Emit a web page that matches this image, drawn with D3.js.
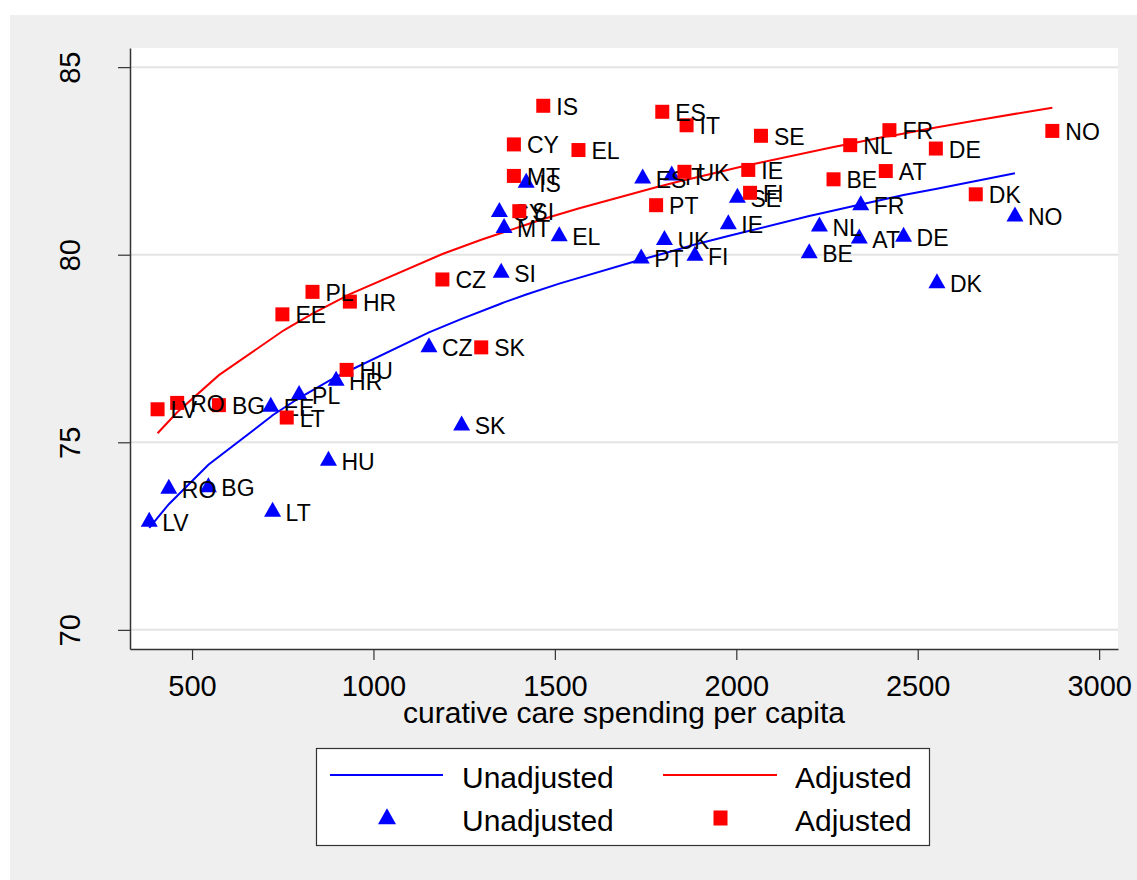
<!DOCTYPE html>
<html>
<head>
<meta charset="utf-8">
<script src="https://cdn.jsdelivr.net/npm/d3@7"></script>
<style>
  body { margin: 0; background: #ffffff; }
  svg { display: block; font-family: "Liberation Sans", Arial, Helvetica, sans-serif; }
</style>
</head>
<body>
<svg id="chart" width="1137" height="880"></svg>
<script>
// ---- data ----
const countries = ["LV","RO","BG","LT","EE","PL","HR","HU","CZ","SK","SI","MT","CY","IS","EL",
                   "ES","IT","PT","UK","FI","IE","SE","BE","NL","FR","AT","DE","DK","NO"];
// Unadjusted: spending per capita, life expectancy, fitted value
const unadjSpend = [382,436,545,722,717,795,897,876,1153,1243,1352,1360,1347,1421,1512,
                    1742,1822,1738,1802,1886,1978,2003,2201,2229,2343,2339,2461,2553,2768];
const unadjLife  = [72.88,73.76,73.80,73.15,75.95,76.26,76.64,74.51,77.53,75.45,79.52,80.71,81.14,81.92,80.49,
                    82.03,82.11,79.90,80.39,79.97,80.81,81.52,80.04,80.75,81.32,80.43,80.48,79.24,81.02];
const unadjFit   = [72.72,73.35,74.40,75.72,75.68,76.18,76.74,76.63,77.93,78.29,78.70,78.73,78.68,78.94,79.23,
                    79.88,80.09,79.87,80.04,80.27,80.50,80.56,81.03,81.09,81.34,81.33,81.59,81.76,82.17];
// Adjusted
const adjSpend = [405,459,574,761,749,832,935,926,1190,1297,1402,1387,1387,1468,1565,
                  1796,1863,1779,1857,2038,2033,2068,2268,2314,2422,2412,2550,2660,2871];
const adjLife  = [75.88,76.05,75.99,75.66,78.41,79.01,78.75,76.93,79.34,77.53,81.16,82.10,82.94,83.97,82.79,
                  83.81,83.45,81.32,82.21,81.65,82.26,83.17,82.01,82.92,83.32,82.23,82.83,81.61,83.30];
const adjFit   = [75.24,75.80,76.79,78.03,77.96,78.43,78.95,78.90,80.02,80.40,80.74,80.69,80.69,80.95,81.23,
                  81.84,82.00,81.80,81.99,82.40,82.39,82.46,82.87,82.96,83.16,83.15,83.39,83.58,83.92];

const xTicks = [500,1000,1500,2000,2500,3000];
const yTicks = [70,75,80,85];
const xTitle = "curative care spending per capita";
const seriesNames = ["Unadjusted","Adjusted"];

// ---- drawing ----
const svg = d3.select("#chart");
const BLUE = "#0000ff", RED = "#ff0000";

svg.append("rect").attr("x",10).attr("y",15).attr("width",1127).attr("height",865).attr("fill","#efefef");

const plot = {left:130, right:1118, top:48, bottom:649};
svg.append("rect").attr("x",plot.left).attr("y",plot.top)
   .attr("width",plot.right-plot.left).attr("height",plot.bottom-plot.top).attr("fill","#ffffff");

const x = d3.scaleLinear().domain([329,3052]).range([plot.left, plot.right]);
const y = d3.scaleLinear().domain([69.49,85.51]).range([plot.bottom, plot.top]);

// grid
svg.append("g").selectAll("line").data(yTicks).join("line")
  .attr("x1",plot.left).attr("x2",plot.right)
  .attr("y1",d=>y(d)).attr("y2",d=>y(d))
  .attr("stroke","#e4e4e4").attr("stroke-width",2);

// axes
const yAxis = svg.append("g").attr("transform",`translate(${plot.left},0)`)
  .call(d3.axisLeft(y).tickValues(yTicks).tickSize(12).tickSizeOuter(0).tickPadding(0));
yAxis.selectAll("text").attr("transform","rotate(-90)").attr("x",0).attr("y",-50).attr("dy",0)
  .attr("text-anchor","middle").style("font-size","29px").attr("fill","#000");

const xAxis = svg.append("g").attr("transform",`translate(0,${plot.bottom})`)
  .call(d3.axisBottom(x).tickValues(xTicks).tickSize(11).tickSizeOuter(0).tickFormat(d3.format("d")));
xAxis.selectAll("text").attr("y",47).attr("dy",0).style("font-size","29px").attr("fill","#000");

[yAxis, xAxis].forEach(a => {
  a.select(".domain").attr("stroke","#333").attr("stroke-width",1.5);
  a.selectAll(".tick line").attr("stroke","#333").attr("stroke-width",1.2);
  a.attr("font-family",null).attr("font-size",null);
});

svg.append("text").attr("x",(plot.left+plot.right)/2).attr("y",723)
  .attr("text-anchor","middle").style("font-size","30px").attr("fill","#000").text(xTitle);

// fitted lines
function lineData(sp, fit) {
  return sp.map((s,i)=>({x:s, y:fit[i]})).sort((a,b)=>a.x-b.x);
}
const lineGen = d3.line().x(d=>x(d.x)).y(d=>y(d.y));
svg.append("path").datum(lineData(unadjSpend, unadjFit)).attr("d",lineGen)
  .attr("fill","none").attr("stroke",BLUE).attr("stroke-width",2);
svg.append("path").datum(lineData(adjSpend, adjFit)).attr("d",lineGen)
  .attr("fill","none").attr("stroke",RED).attr("stroke-width",2);

// markers
function triPath(cx, cy, w, h) {
  return `M${cx},${cy - h*2/3}L${cx + w/2},${cy + h/3}L${cx - w/2},${cy + h/3}Z`;
}
const unadjPts = countries.map((c,i)=>({c, x:unadjSpend[i], y:unadjLife[i]}));
const adjPts = countries.map((c,i)=>({c, x:adjSpend[i], y:adjLife[i]}));

const gU = svg.append("g");
gU.selectAll("path").data(unadjPts).join("path")
  .attr("d", d=>triPath(x(d.x), y(d.y), 17, 15)).attr("fill",BLUE);
gU.selectAll("text").data(unadjPts).join("text")
  .attr("x", d=>x(d.x)+13).attr("y", d=>y(d.y)+9)
  .style("font-size","23px").attr("fill","#000").text(d=>d.c);

const gA = svg.append("g");
gA.selectAll("rect").data(adjPts).join("rect")
  .attr("x", d=>x(d.x)-7).attr("y", d=>y(d.y)-7).attr("width",14).attr("height",14).attr("fill",RED);
gA.selectAll("text").data(adjPts).join("text")
  .attr("x", d=>x(d.x)+13).attr("y", d=>y(d.y)+9)
  .style("font-size","23px").attr("fill","#000").text(d=>d.c);

// legend
const lg = svg.append("g");
lg.append("rect").attr("x",316.5).attr("y",748.5).attr("width",613).attr("height",97)
  .attr("fill","#fff").attr("stroke","#333").attr("stroke-width",1.2);
lg.append("line").attr("x1",330).attr("x2",443).attr("y1",775).attr("y2",775).attr("stroke",BLUE).attr("stroke-width",2);
lg.append("line").attr("x1",663).attr("x2",777).attr("y1",775).attr("y2",775).attr("stroke",RED).attr("stroke-width",2);
lg.append("path").attr("d",triPath(387,819,18,16)).attr("fill",BLUE);
lg.append("rect").attr("x",713.5).attr("y",810.5).attr("width",14).attr("height",15).attr("fill",RED);
const legTexts = [
  {t:seriesNames[0], x:462, y:788},
  {t:seriesNames[1], x:795, y:788},
  {t:seriesNames[0], x:462, y:830.5},
  {t:seriesNames[1], x:795, y:830.5}
];
lg.selectAll("text.leg").data(legTexts).join("text").attr("class","leg")
  .attr("x",d=>d.x).attr("y",d=>d.y)
  .style("font-size","30px").attr("fill","#000").text(d=>d.t);
</script>
</body>
</html>
